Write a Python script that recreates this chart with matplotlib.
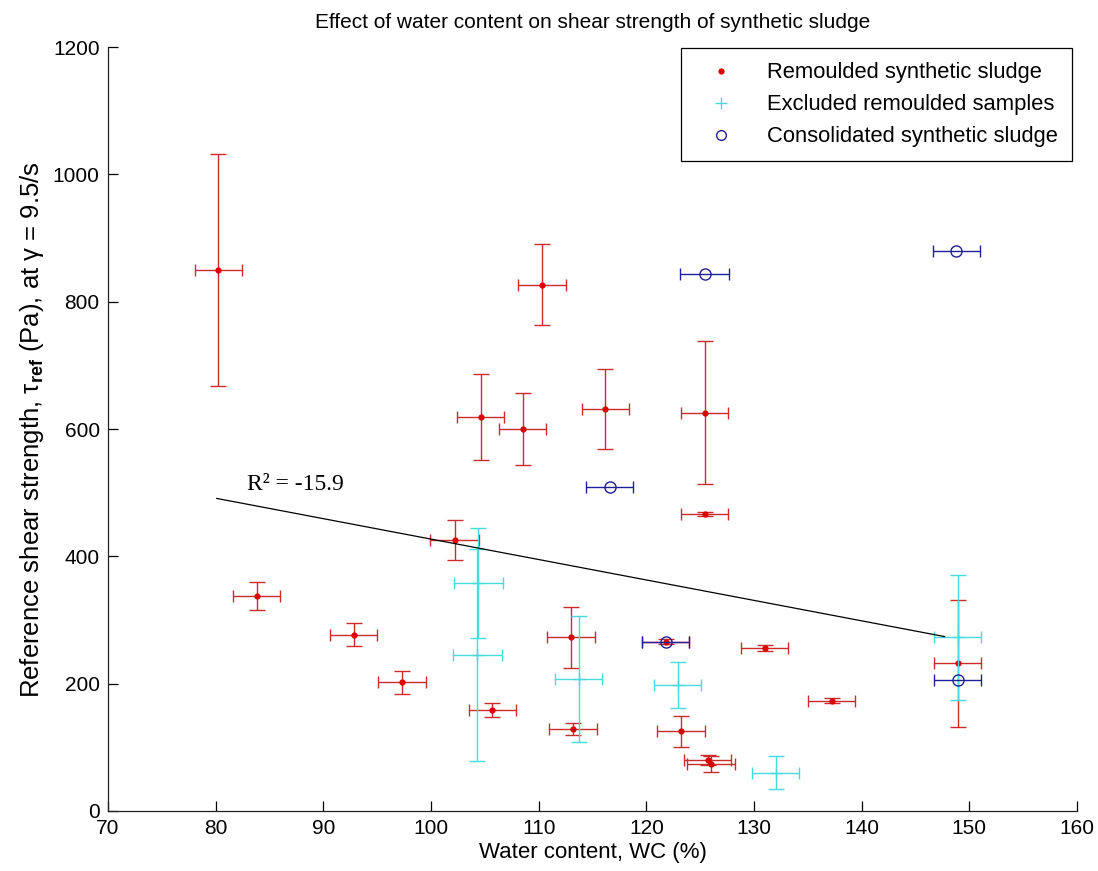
import numpy as np
import matplotlib.pyplot as plt
from matplotlib.lines import Line2D

plt.rcParams['font.family'] = ['Liberation Sans', 'DejaVu Sans']
plt.rcParams['mathtext.fontset'] = 'custom'
plt.rcParams['mathtext.rm'] = 'Liberation Sans'
plt.rcParams['mathtext.it'] = 'Liberation Sans:italic'
plt.rcParams['mathtext.bf'] = 'Liberation Sans:bold'

# Remoulded synthetic sludge (water content %, tau_ref Pa)
rem_wc = [80.25, 110.3, 104.6, 108.5, 116.2, 125.4, 125.4, 102.2, 83.8, 92.8, 97.3,
          105.7, 113.0, 113.2, 121.8, 123.2, 125.7, 126.0, 131.0, 137.2, 148.9]
rem_tau = [850, 827, 619, 600, 632, 626, 467, 426, 338, 277, 202,
           158, 273, 129, 266, 125, 80, 74, 256, 173, 232]
rem_wc_err = [2.2, 2.2, 2.2, 2.2, 2.2, 2.2, 2.2, 2.3, 2.2, 2.2, 2.2,
              2.2, 2.2, 2.2, 2.2, 2.2, 2.2, 2.2, 2.2, 2.2, 2.2]
rem_tau_err = [182, 63, 68, 56, 63, 113, 3, 31, 22, 18, 18,
               11, 48, 10, 4, 24, 8, 12, 4, 4, 100]

# Excluded remoulded samples
exc_wc = [104.4, 104.3, 113.7, 122.9, 132.0, 148.9]
exc_tau = [358, 245, 207, 198, 60, 273]
exc_wc_err = [2.25, 2.25, 2.2, 2.2, 2.2, 2.2]
exc_tau_err = [87, 166, 99, 36, 26, 98]

# Consolidated synthetic sludge (only WC error)
con_wc = [125.4, 116.6, 148.8, 121.8, 148.9]
con_tau = [843, 509, 879, 266, 206]
con_wc_err = [2.25, 2.2, 2.2, 2.2, 2.2]

# fitted trend line end points
fit_wc = [80.1, 147.7]
fit_tau = [491, 274]
r2_label = 'R\u00b2 = -15.9'

red_line = '#cc2b2b'
red_dot = '#dd0000'
cyan = '#45dcdc'
blue = '#1f1f9a'

fig = plt.figure(figsize=(10.98, 8.71), dpi=100)
ax = fig.add_axes([0.0984, 0.0689, 0.8825, 0.877])

def draw_bars(x, y, xe, ye, col):
    if ye is not None:
        ax.errorbar(x, y, yerr=ye, fmt='none', ecolor=col, elinewidth=1.0,
                    capsize=6, capthick=1.0)
    ax.errorbar(x, y, xerr=xe, fmt='none', ecolor=col, elinewidth=1.0,
                capsize=4.3, capthick=1.0)

draw_bars(rem_wc, rem_tau, rem_wc_err, rem_tau_err, red_line)
ax.plot(rem_wc, rem_tau, 'o', color=red_dot, ms=4.5, mec='none')

draw_bars(exc_wc, exc_tau, exc_wc_err, exc_tau_err, cyan)
ax.plot(exc_wc, exc_tau, '+', color=cyan, ms=8, mew=1.0)

draw_bars(con_wc, con_tau, con_wc_err, None, blue)
ax.plot(con_wc, con_tau, 'o', mfc='none', mec=blue, ms=8, mew=1.0)

# trend line
ax.plot(fit_wc, fit_tau, color='black', lw=0.9)
ax.text(82.9, 504, r2_label, fontsize=17, family=['Liberation Serif', 'DejaVu Serif'],
        ha='left', va='baseline')

ax.set_xlim(70, 160)
ax.set_ylim(0, 1200)
ax.set_xticks(np.arange(70, 161, 10))
ax.set_yticks(np.arange(0, 1201, 200))
for s in ['top', 'right']:
    ax.spines[s].set_visible(False)
for s in ['left', 'bottom']:
    ax.spines[s].set_linewidth(0.9)
    ax.spines[s].set_color('#222222')
ax.tick_params(direction='in', length=7, width=0.9, labelsize=15, pad=6)

ax.set_xlabel('Water content, WC (%)', fontsize=16, labelpad=3)
ax.set_ylabel(r'Reference shear strength, τ$_{\mathbf{ref}}$ (Pa), at γ = 9.5/s',
              fontsize=18.5, labelpad=5)
ax.set_title('Effect of water content on shear strength of synthetic sludge',
             fontsize=15, pad=14)

# legend with marker-only handles
handles = [Line2D([], [], ls='none', marker='o', color=red_dot, ms=4.5, mec='none'),
           Line2D([], [], ls='none', marker='+', color=cyan, ms=8, mew=1.0),
           Line2D([], [], ls='none', marker='o', mfc='none', mec=blue, ms=7, mew=1.0)]
labels = ['Remoulded synthetic sludge', 'Excluded remoulded samples',
          'Consolidated synthetic sludge']
leg = ax.legend(handles, labels, loc='upper left', fontsize=15.8,
                bbox_to_anchor=(681 / 1098, 1 - 48 / 871),
                bbox_transform=fig.transFigure, borderaxespad=0,
                fancybox=False, framealpha=1, edgecolor='black',
                handlelength=2.3, handletextpad=0.95, borderpad=0.65,
                labelspacing=0.5)
leg.get_frame().set_linewidth(0.9)

fig.savefig('out.png', dpi=100)
